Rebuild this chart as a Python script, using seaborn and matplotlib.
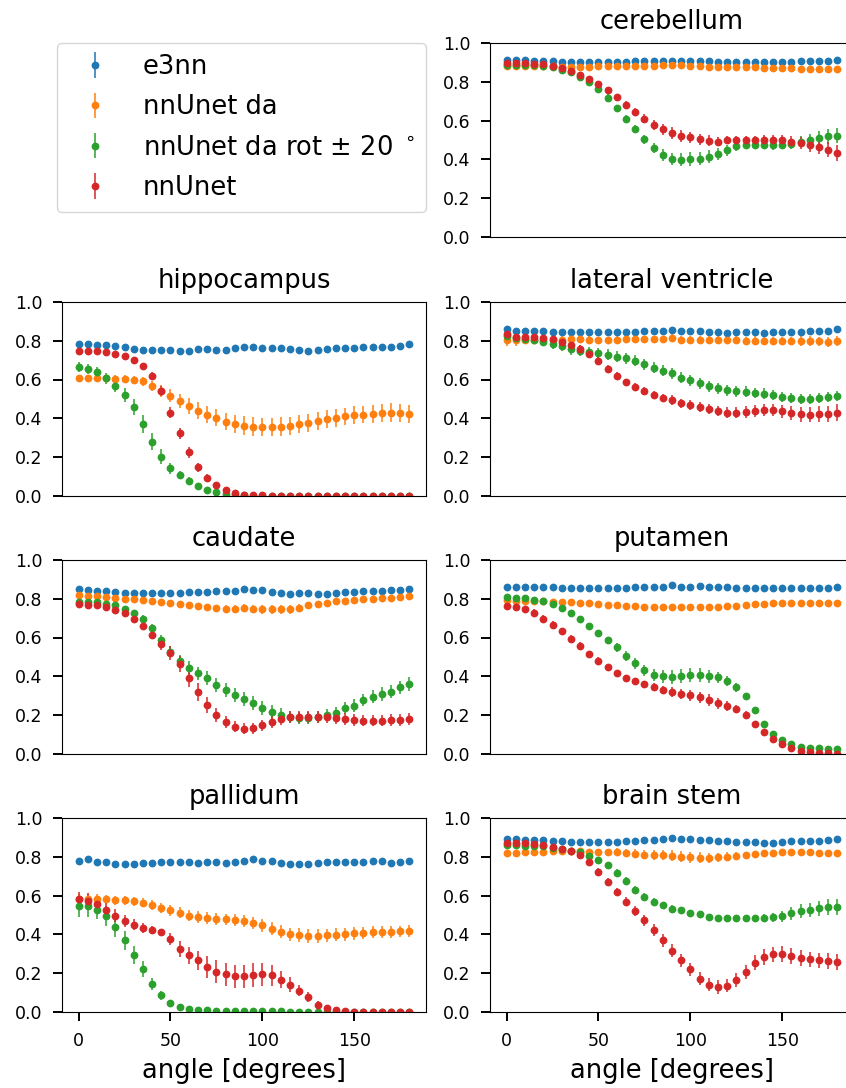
import matplotlib
matplotlib.use("Agg")
import matplotlib.pyplot as plt
import seaborn as sns

# ---------------------------------------------------------------- data
angles = [0, 5, 10, 15, 20, 25, 30, 35, 40, 45, 50, 55, 60, 65, 70, 75, 80, 85, 90,
          95, 100, 105, 110, 115, 120, 125, 130, 135, 140, 145, 150, 155, 160, 165,
          170, 175, 180]

model_names = ["e3nn", "nnUnet da", r"nnUnet da rot $\pm$ 20 $^\circ$", "nnUnet"]
structures = ["cerebellum", "hippocampus", "lateral ventricle", "caudate",
              "putamen", "pallidum", "brain stem"]

# cerebellum
cerebellum_e3nn = [.912, .912, .910, .908, .906, .905, .900, .900, .900, .900, .900, .900, .900, .902, .904, .905, .905, .906, .905, .905, .906, .906, .904, .902, .902, .902, .900, .900, .900, .900, .900, .902, .906, .908, .908, .908, .912]
cerebellum_e3nn_err = [.004, .004, .004, .004, .004, .004, .004, .004, .004, .004, .004, .004, .004, .004, .004, .004, .004, .004, .004, .004, .004, .004, .004, .004, .004, .004, .004, .004, .004, .004, .005, .005, .005, .005, .005, .005, .005]
cerebellum_da = [.880, .882, .882, .882, .880, .878, .876, .876, .877, .877, .878, .878, .879, .880, .880, .880, .882, .885, .887, .885, .880, .878, .877, .876, .876, .875, .875, .874, .872, .870, .870, .868, .867, .866, .866, .866, .865]
cerebellum_da_err = [.006, .006, .006, .006, .006, .006, .006, .006, .006, .006, .006, .006, .006, .006, .006, .006, .006, .006, .006, .006, .006, .006, .006, .006, .006, .006, .006, .006, .006, .006, .006, .006, .006, .006, .006, .006, .006]
cerebellum_rot = [.885, .885, .885, .885, .882, .877, .862, .848, .826, .798, .762, .718, .663, .609, .557, .504, .458, .424, .403, .398, .402, .403, .414, .427, .446, .467, .475, .475, .473, .472, .475, .480, .490, .500, .510, .518, .522]
cerebellum_rot_err = [.008, .008, .008, .008, .008, .010, .010, .012, .012, .014, .015, .016, .018, .020, .022, .024, .026, .030, .032, .034, .034, .034, .032, .030, .026, .022, .020, .020, .020, .022, .024, .026, .028, .032, .035, .038, .040]
cerebellum_nnunet = [.897, .897, .894, .891, .889, .880, .868, .855, .836, .814, .786, .756, .720, .680, .643, .609, .578, .556, .535, .521, .513, .504, .497, .492, .499, .500, .502, .502, .502, .502, .500, .490, .485, .473, .465, .450, .432]
cerebellum_nnunet_err = [.010, .010, .010, .010, .010, .010, .012, .012, .014, .014, .016, .018, .018, .020, .022, .024, .026, .028, .030, .030, .030, .028, .026, .024, .022, .020, .020, .020, .022, .024, .026, .030, .032, .034, .036, .038, .040]

# hippocampus
hippocampus_e3nn = [.780, .780, .775, .775, .770, .765, .755, .750, .750, .750, .752, .745, .745, .755, .755, .752, .750, .762, .765, .768, .762, .760, .760, .758, .752, .748, .750, .755, .762, .760, .762, .768, .768, .768, .768, .772, .780]
hippocampus_e3nn_err = [.005, .005, .005, .005, .005, .005, .005, .005, .005, .005, .005, .005, .005, .005, .005, .005, .005, .005, .005, .005, .005, .005, .005, .005, .005, .005, .005, .005, .005, .005, .005, .005, .005, .005, .005, .005, .005]
hippocampus_da = [.607, .607, .607, .607, .605, .603, .598, .590, .568, .540, .516, .490, .465, .440, .420, .404, .384, .372, .363, .358, .355, .355, .358, .363, .370, .378, .385, .396, .403, .410, .416, .420, .423, .427, .430, .427, .423]
hippocampus_da_err = [.015, .015, .016, .016, .018, .018, .020, .022, .025, .030, .034, .038, .040, .042, .044, .045, .046, .046, .047, .047, .047, .047, .047, .046, .046, .046, .046, .046, .046, .046, .046, .046, .046, .047, .047, .047, .047]
hippocampus_rot = [.663, .654, .637, .607, .568, .520, .460, .372, .280, .203, .143, .108, .079, .053, .034, .022, .010, .006, .004, .003, .003, .003, .003, .003, .003, .003, .003, .003, .003, .003, .003, .003, .003, .003, .003, .003, .003]
hippocampus_rot_err = [.025, .025, .025, .028, .030, .035, .040, .045, .045, .040, .030, .022, .018, .014, .010, .008, .006, .004, .003, .003, .003, .003, .003, .003, .003, .003, .003, .003, .003, .003, .003, .003, .003, .003, .003, .003, .003]
hippocampus_nnunet = [.745, .745, .745, .740, .733, .720, .700, .668, .620, .540, .430, .323, .225, .148, .095, .057, .030, .018, .008, .005, .004, .003, .003, .003, .003, .003, .003, .003, .003, .003, .003, .003, .003, .003, .003, .003, .003]
hippocampus_nnunet_err = [.008, .008, .008, .008, .010, .010, .012, .015, .020, .025, .030, .030, .030, .025, .020, .015, .010, .008, .005, .004, .003, .003, .003, .003, .003, .003, .003, .003, .003, .003, .003, .003, .003, .003, .003, .003, .003]

# lateral ventricle
lateral_ventricle_e3nn = [.860, .850, .850, .850, .848, .845, .843, .843, .843, .843, .843, .843, .845, .843, .845, .847, .848, .848, .857, .848, .848, .847, .845, .843, .840, .843, .843, .843, .840, .843, .845, .845, .845, .847, .848, .848, .860]
lateral_ventricle_e3nn_err = [.006, .006, .006, .006, .006, .006, .006, .006, .006, .006, .006, .006, .006, .006, .006, .006, .006, .006, .006, .006, .006, .006, .006, .006, .006, .006, .006, .006, .006, .006, .006, .006, .006, .006, .006, .006, .006]
lateral_ventricle_da = [.803, .803, .805, .805, .805, .805, .805, .808, .808, .805, .802, .802, .805, .808, .808, .808, .808, .808, .815, .805, .805, .805, .803, .802, .802, .802, .800, .800, .798, .797, .797, .797, .798, .798, .797, .795, .800]
lateral_ventricle_da_err = [.030, .030, .020, .020, .018, .018, .018, .018, .018, .018, .018, .018, .018, .018, .018, .018, .018, .018, .018, .018, .018, .020, .020, .020, .020, .020, .020, .022, .022, .022, .022, .022, .024, .024, .024, .026, .026]
lateral_ventricle_rot = [.823, .811, .806, .803, .794, .782, .772, .756, .748, .741, .734, .727, .717, .708, .696, .678, .660, .645, .631, .610, .597, .580, .566, .554, .545, .540, .537, .532, .528, .520, .509, .503, .499, .499, .503, .508, .515]
lateral_ventricle_rot_err = [.015, .018, .020, .022, .024, .025, .026, .028, .028, .028, .028, .028, .028, .028, .028, .028, .028, .028, .028, .028, .028, .028, .028, .028, .028, .028, .028, .026, .026, .026, .026, .026, .026, .026, .026, .026, .026]
lateral_ventricle_nnunet = [.834, .820, .820, .818, .812, .806, .794, .777, .756, .729, .695, .653, .617, .585, .561, .540, .520, .506, .494, .477, .470, .460, .448, .437, .429, .429, .434, .439, .443, .443, .437, .429, .422, .420, .422, .424, .430]
lateral_ventricle_nnunet_err = [.015, .015, .015, .015, .015, .018, .018, .020, .020, .020, .020, .020, .020, .020, .020, .022, .022, .022, .024, .024, .025, .026, .026, .026, .028, .028, .030, .030, .032, .032, .034, .036, .038, .040, .040, .042, .045]

# caudate
caudate_e3nn = [.849, .844, .840, .838, .833, .830, .828, .830, .830, .828, .830, .830, .832, .835, .836, .837, .838, .840, .851, .845, .842, .835, .830, .826, .830, .828, .826, .826, .830, .832, .835, .838, .840, .840, .842, .842, .849]
caudate_e3nn_err = [.005, .005, .005, .005, .005, .005, .005, .005, .005, .005, .005, .005, .005, .005, .005, .005, .005, .005, .005, .005, .005, .005, .005, .005, .005, .005, .005, .005, .005, .005, .005, .005, .005, .005, .005, .005, .005]
caudate_da = [.820, .815, .812, .808, .805, .800, .797, .794, .790, .785, .778, .770, .765, .760, .755, .750, .748, .748, .752, .748, .745, .745, .745, .745, .752, .765, .772, .779, .786, .790, .793, .796, .800, .802, .804, .806, .811]
caudate_da_err = [.010, .010, .010, .010, .010, .010, .010, .010, .010, .012, .012, .012, .014, .014, .015, .016, .018, .020, .020, .020, .022, .022, .022, .022, .020, .018, .016, .014, .012, .012, .012, .012, .012, .012, .012, .012, .012]
caudate_rot = [.782, .781, .780, .772, .765, .748, .726, .696, .648, .588, .528, .480, .443, .415, .391, .357, .331, .305, .283, .261, .237, .216, .202, .190, .185, .185, .190, .202, .214, .237, .250, .278, .295, .309, .322, .343, .360]
caudate_rot_err = [.012, .012, .012, .012, .014, .015, .016, .018, .020, .024, .028, .032, .034, .035, .036, .036, .036, .036, .036, .036, .036, .036, .034, .032, .030, .030, .030, .030, .030, .030, .032, .032, .034, .034, .035, .035, .036]
caudate_nnunet = [.772, .768, .765, .755, .741, .726, .695, .657, .614, .566, .520, .463, .391, .319, .254, .202, .165, .141, .130, .134, .148, .165, .182, .190, .190, .192, .192, .189, .185, .180, .177, .173, .173, .173, .175, .177, .182]
caudate_nnunet_err = [.012, .012, .012, .012, .014, .016, .018, .020, .024, .030, .034, .040, .045, .045, .040, .035, .030, .028, .028, .028, .030, .030, .030, .030, .030, .030, .030, .030, .030, .030, .030, .030, .030, .030, .030, .030, .030]

# putamen
putamen_e3nn = [.861, .861, .862, .861, .860, .858, .857, .855, .857, .857, .857, .855, .857, .857, .858, .858, .860, .862, .871, .860, .862, .864, .862, .860, .860, .857, .857, .857, .857, .857, .857, .857, .855, .855, .855, .855, .861]
putamen_e3nn_err = [.005, .005, .005, .005, .005, .005, .005, .005, .005, .005, .005, .005, .005, .005, .005, .005, .005, .005, .005, .005, .005, .005, .005, .005, .005, .005, .005, .005, .005, .005, .005, .005, .005, .005, .005, .005, .005]
putamen_da = [.794, .790, .787, .786, .786, .784, .782, .780, .778, .775, .772, .768, .765, .762, .760, .758, .756, .757, .758, .757, .757, .757, .757, .758, .760, .764, .768, .771, .773, .775, .777, .778, .778, .778, .778, .778, .778]
putamen_da_err = [.008, .008, .008, .008, .008, .008, .008, .008, .008, .008, .008, .008, .008, .008, .008, .008, .008, .008, .008, .008, .008, .008, .008, .008, .008, .008, .008, .008, .008, .008, .008, .008, .008, .008, .008, .008, .008]
putamen_rot = [.806, .804, .802, .794, .786, .772, .751, .726, .696, .657, .623, .585, .549, .506, .468, .431, .408, .400, .398, .403, .405, .405, .400, .395, .377, .343, .297, .228, .156, .103, .074, .053, .039, .034, .031, .029, .029]
putamen_rot_err = [.012, .012, .012, .012, .012, .012, .012, .012, .014, .016, .018, .020, .022, .025, .028, .030, .032, .034, .035, .036, .036, .036, .034, .030, .026, .022, .018, .015, .012, .010, .008, .008, .006, .006, .006, .006, .006]
putamen_nnunet = [.760, .755, .746, .726, .696, .666, .631, .593, .557, .515, .480, .446, .417, .391, .374, .360, .345, .331, .319, .309, .302, .292, .280, .262, .249, .233, .202, .156, .113, .079, .051, .031, .017, .010, .006, .004, .003]
putamen_nnunet_err = [.018, .018, .018, .018, .018, .018, .018, .018, .018, .018, .018, .018, .018, .018, .018, .018, .020, .022, .024, .026, .028, .030, .030, .028, .026, .022, .018, .014, .012, .010, .008, .006, .005, .004, .004, .003, .003]

# pallidum
pallidum_e3nn = [.777, .786, .772, .772, .763, .763, .762, .766, .766, .770, .774, .770, .770, .768, .770, .772, .768, .774, .778, .789, .777, .775, .766, .764, .760, .764, .766, .772, .773, .772, .774, .774, .777, .778, .767, .770, .775]
pallidum_e3nn_err = [.006, .006, .006, .006, .006, .006, .006, .006, .006, .006, .006, .006, .006, .006, .006, .006, .006, .006, .006, .006, .006, .006, .006, .006, .006, .006, .006, .006, .006, .006, .006, .006, .006, .006, .006, .006, .006]
pallidum_da = [.583, .583, .582, .580, .576, .575, .570, .563, .551, .535, .523, .511, .497, .489, .484, .480, .477, .473, .468, .460, .446, .429, .413, .400, .395, .391, .391, .395, .398, .401, .405, .408, .412, .413, .413, .415, .419]
pallidum_da_err = [.025, .025, .025, .024, .024, .024, .024, .024, .025, .026, .027, .028, .028, .029, .030, .030, .030, .030, .030, .031, .032, .033, .034, .035, .036, .036, .036, .035, .034, .033, .032, .031, .030, .030, .030, .030, .030]
pallidum_rot = [.545, .545, .528, .494, .439, .369, .293, .223, .146, .087, .048, .026, .017, .012, .009, .007, .006, .005, .005, .004, .004, .004, .004, .003, .003, .003, .003, .003, .003, .003, .003, .003, .003, .003, .003, .003, .003]
pallidum_rot_err = [.055, .055, .050, .050, .050, .050, .045, .040, .030, .022, .014, .010, .006, .004, .003, .003, .003, .003, .003, .003, .003, .003, .003, .003, .003, .003, .003, .003, .003, .003, .003, .003, .003, .003, .003, .003, .003]
pallidum_nnunet = [.580, .571, .554, .528, .497, .468, .449, .434, .425, .412, .377, .326, .292, .266, .233, .209, .194, .185, .185, .192, .194, .190, .168, .142, .111, .077, .039, .022, .009, .005, .003, .003, .003, .003, .003, .003, .003]
pallidum_nnunet_err = [.040, .040, .035, .032, .032, .030, .028, .025, .020, .018, .030, .040, .045, .050, .055, .058, .060, .060, .060, .060, .058, .055, .045, .038, .030, .025, .018, .012, .006, .004, .003, .003, .003, .003, .003, .003, .003]

# brain stem
brain_stem_e3nn = [.888, .888, .886, .884, .886, .882, .878, .876, .876, .876, .875, .876, .876, .880, .882, .884, .886, .890, .894, .893, .890, .885, .883, .882, .880, .877, .875, .873, .872, .872, .876, .878, .878, .880, .882, .883, .888]
brain_stem_e3nn_err = [.005, .005, .005, .005, .005, .005, .005, .005, .005, .005, .005, .005, .005, .005, .005, .005, .005, .005, .005, .005, .005, .005, .005, .005, .005, .005, .005, .005, .005, .005, .005, .005, .005, .005, .005, .005, .005]
brain_stem_da = [.820, .820, .822, .824, .826, .828, .828, .828, .827, .826, .826, .825, .825, .820, .815, .810, .808, .807, .805, .800, .797, .795, .795, .797, .800, .805, .810, .813, .817, .820, .822, .822, .822, .822, .820, .818, .818]
brain_stem_da_err = [.010, .010, .010, .010, .010, .010, .012, .012, .012, .014, .014, .016, .018, .020, .022, .024, .025, .026, .027, .028, .028, .028, .026, .024, .022, .018, .016, .014, .012, .012, .012, .012, .012, .012, .012, .012, .012]
brain_stem_rot = [.858, .858, .857, .855, .852, .846, .837, .829, .823, .803, .782, .755, .717, .674, .628, .593, .566, .549, .533, .523, .511, .503, .492, .485, .484, .482, .482, .482, .484, .487, .494, .508, .520, .528, .535, .542, .542]
brain_stem_rot_err = [.010, .010, .010, .010, .010, .010, .010, .012, .012, .014, .014, .016, .018, .020, .020, .022, .022, .020, .018, .016, .015, .015, .015, .015, .015, .015, .016, .018, .020, .025, .028, .032, .035, .036, .038, .040, .040]
brain_stem_nnunet = [.871, .871, .868, .863, .858, .851, .840, .829, .806, .772, .722, .671, .617, .568, .520, .473, .422, .369, .317, .266, .220, .173, .142, .129, .137, .165, .206, .254, .283, .297, .300, .288, .278, .271, .266, .262, .259]
brain_stem_nnunet_err = [.015, .015, .015, .015, .015, .015, .015, .015, .015, .016, .018, .020, .022, .024, .026, .028, .030, .032, .032, .032, .034, .034, .034, .034, .034, .034, .036, .038, .040, .040, .040, .040, .040, .040, .040, .040, .040]

results = {
    "cerebellum": [(cerebellum_e3nn, cerebellum_e3nn_err), (cerebellum_da, cerebellum_da_err),
                   (cerebellum_rot, cerebellum_rot_err), (cerebellum_nnunet, cerebellum_nnunet_err)],
    "hippocampus": [(hippocampus_e3nn, hippocampus_e3nn_err), (hippocampus_da, hippocampus_da_err),
                    (hippocampus_rot, hippocampus_rot_err), (hippocampus_nnunet, hippocampus_nnunet_err)],
    "lateral ventricle": [(lateral_ventricle_e3nn, lateral_ventricle_e3nn_err),
                          (lateral_ventricle_da, lateral_ventricle_da_err),
                          (lateral_ventricle_rot, lateral_ventricle_rot_err),
                          (lateral_ventricle_nnunet, lateral_ventricle_nnunet_err)],
    "caudate": [(caudate_e3nn, caudate_e3nn_err), (caudate_da, caudate_da_err),
                (caudate_rot, caudate_rot_err), (caudate_nnunet, caudate_nnunet_err)],
    "putamen": [(putamen_e3nn, putamen_e3nn_err), (putamen_da, putamen_da_err),
                (putamen_rot, putamen_rot_err), (putamen_nnunet, putamen_nnunet_err)],
    "pallidum": [(pallidum_e3nn, pallidum_e3nn_err), (pallidum_da, pallidum_da_err),
                 (pallidum_rot, pallidum_rot_err), (pallidum_nnunet, pallidum_nnunet_err)],
    "brain stem": [(brain_stem_e3nn, brain_stem_e3nn_err), (brain_stem_da, brain_stem_da_err),
                   (brain_stem_rot, brain_stem_rot_err), (brain_stem_nnunet, brain_stem_nnunet_err)],
}

# ---------------------------------------------------------------- style
sns.set_style("ticks", rc={
    "axes.edgecolor": "black",
    "axes.labelcolor": "black",
    "axes.linewidth": 1.4,
    "text.color": "black",
    "xtick.color": "black",
    "ytick.color": "black",
})
plt.rcParams["font.family"] = ["DejaVu Sans"]
palette = sns.color_palette("tab10", 4)

W, H = 846, 1088
fig = plt.figure(figsize=(W / 100, H / 100), dpi=100)

col_left = [62, 490]
ax_w, ax_h = 364, 194.5
row_top = [42.7, 301.7, 559.7, 817.7]


def panel(row, col):
    x0 = col_left[col] / W
    y0 = 1 - (row_top[row] + ax_h) / H
    return fig.add_axes([x0, y0, ax_w / W, ax_h / H])


layout = [(0, 1, "cerebellum"), (1, 0, "hippocampus"), (1, 1, "lateral ventricle"),
          (2, 0, "caudate"), (2, 1, "putamen"), (3, 0, "pallidum"), (3, 1, "brain stem")]

handles = None
for row, col, name in layout:
    ax = panel(row, col)
    for (mean, err), label, color in zip(results[name], model_names, palette):
        ax.errorbar(angles, mean, yerr=err, fmt="o", ms=4.6, elinewidth=1.1,
                    color=color, label=label)
    ax.set_ylim(0, 1)
    ax.set_yticks([0.0, 0.2, 0.4, 0.6, 0.8, 1.0])
    ax.tick_params(labelsize=12.5, length=6.5, width=1.4, pad=7.5)
    ax.set_title(name, fontsize=18.5, pad=10)
    if row == 3:
        ax.set_xticks([0, 50, 100, 150])
        ax.set_xlabel("angle [degrees]", fontsize=18.5, labelpad=6)
    else:
        ax.set_xticks([])
    if handles is None:
        handles, labels = ax.get_legend_handles_labels()

# legend in the empty top-left slot
lax = panel(0, 0)
lax.axis("off")
lax.legend(handles, labels, loc="upper right", borderaxespad=0, fontsize=18.5,
           handlelength=2.1, handletextpad=0.8, borderpad=0.45, labelspacing=0.55)

fig.savefig("out.png", dpi=100)
